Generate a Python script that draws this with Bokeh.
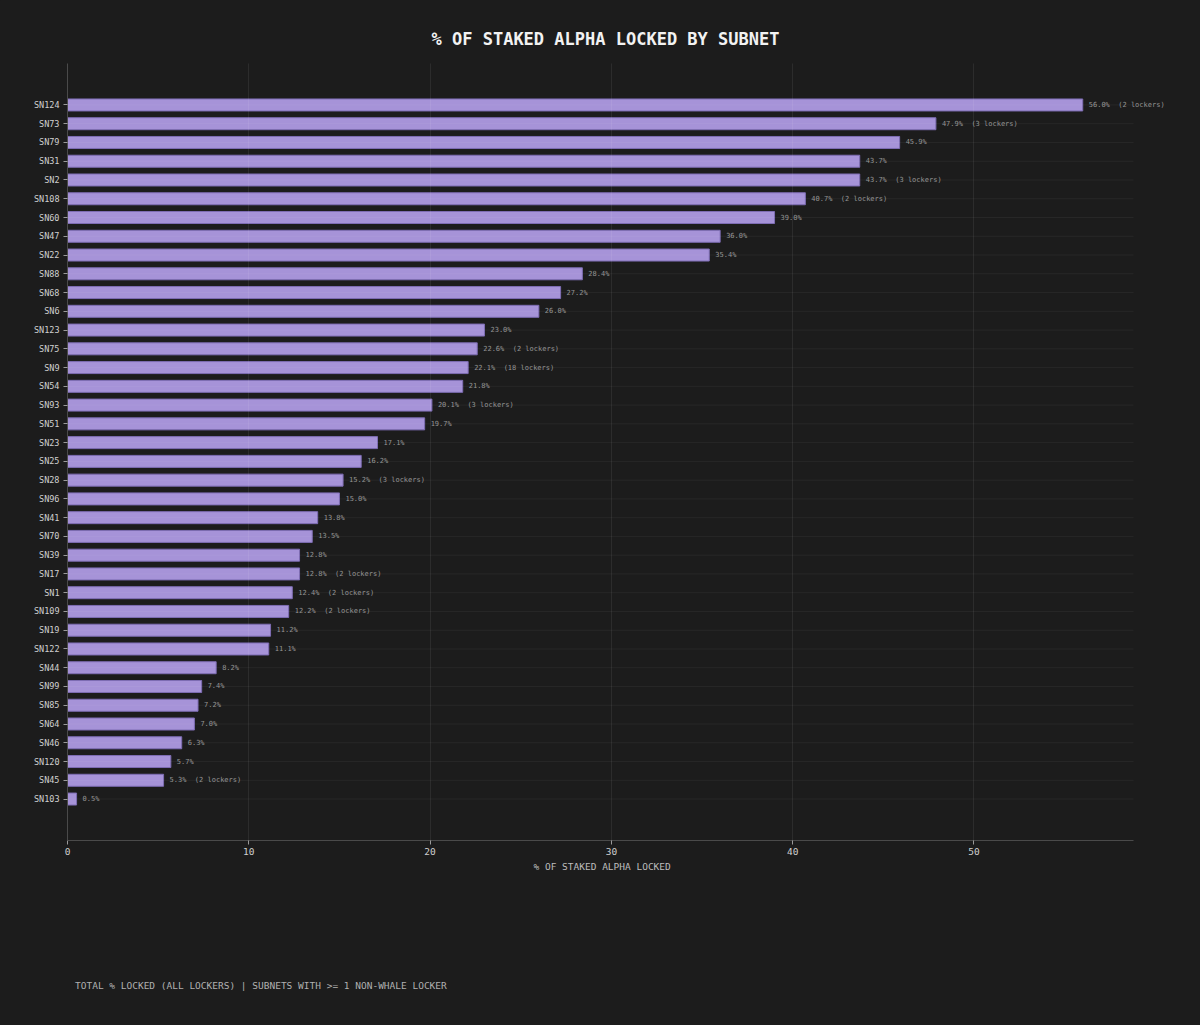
from bokeh.plotting import figure
from bokeh.models import FactorRange, Range1d, FixedTicker, Title, ColumnDataSource, Div
from bokeh.core.properties import value
from bokeh.layouts import column
from bokeh.embed import file_html
from bokeh.resources import INLINE

subnets = ["SN124", "SN73", "SN79", "SN31", "SN2", "SN108", "SN60", "SN47", "SN22", "SN88",
           "SN68", "SN6", "SN123", "SN75", "SN9", "SN54", "SN93", "SN51", "SN23", "SN25",
           "SN28", "SN96", "SN41", "SN70", "SN39", "SN17", "SN1", "SN109", "SN19", "SN122",
           "SN44", "SN99", "SN85", "SN64", "SN46", "SN120", "SN45", "SN103"]
pct_locked = [56.0, 47.9, 45.9, 43.7, 43.7, 40.7, 39.0, 36.0, 35.4, 28.4,
              27.2, 26.0, 23.0, 22.6, 22.1, 21.8, 20.1, 19.7, 17.1, 16.2,
              15.2, 15.0, 13.8, 13.5, 12.8, 12.8, 12.4, 12.2, 11.2, 11.1,
              8.2, 7.4, 7.2, 7.0, 6.3, 5.7, 5.3, 0.5]
lockers = [2, 3, 1, 1, 3, 2, 1, 1, 1, 1,
           1, 1, 1, 2, 18, 1, 3, 1, 1, 1,
           3, 1, 1, 1, 1, 2, 2, 2, 1, 1,
           1, 1, 1, 1, 1, 1, 2, 1]
x_ticks = [0, 10, 20, 30, 40, 50]

BG = "#1c1c1c"
FONT = "DejaVu Sans Mono"

labels = [f"{v:.1f}%" + (f"\u00a0\u00a0({n} lockers)" if n > 1 else "") for v, n in zip(pct_locked, lockers)]
axis_end = max(pct_locked) * 1.05
src = ColumnDataSource(dict(sn=subnets, v=pct_locked, lab=labels,
                            x0=[0] * len(subnets), x1=[axis_end] * len(subnets)))
factors = list(reversed(subnets))

W, H = 1200, 968
LEFT, RIGHT_AXIS, RIGHT_BORDER = 67, 1133, 20
# the frame is a bit wider than the axis so that value labels are not clipped
x_end = axis_end * (W - RIGHT_BORDER - LEFT) / (RIGHT_AXIS - LEFT)

p = figure(width=W, height=H, output_backend="svg", toolbar_location=None,
           y_range=FactorRange(factors=factors, range_padding=0.09,
                               range_padding_units="percent"),
           x_range=Range1d(0, x_end),
           background_fill_color=BG, border_fill_color=BG,
           min_border_left=LEFT, min_border_right=RIGHT_BORDER, min_border_top=63,
           min_border_bottom=128)
p.outline_line_color = None

p.hbar(y="sn", right="v", left=0, height=0.64, source=src,
       fill_color="#a693d8", line_color="#7e6db4", line_width=1)
# horizontal grid lines (limited to the axis extent), drawn above bars
p.segment(x0="x0", x1="x1", y0="sn", y1="sn", source=src,
          line_color="#ffffff", line_alpha=0.05, line_width=1)
p.text(x="v", y="sn", text="lab", source=src, x_offset=6, text_baseline="middle",
       text_align="left", text_font_size="7px", text_color="#959595", text_font=value(FONT))

t = Title(text="% OF STAKED ALPHA LOCKED BY SUBNET", align="left", offset=364, text_font=FONT,
          text_font_size="17px", text_font_style="bold", text_color="#f2f2f2", standoff=30)
p.add_layout(t, "above")

p.ygrid.visible = False
p.xgrid.grid_line_color = "#ffffff"
p.xgrid.level = "overlay"
p.xgrid.grid_line_alpha = 0.07
p.xgrid.ticker = FixedTicker(ticks=x_ticks)

xa = p.xaxis[0]
xa.ticker = FixedTicker(ticks=x_ticks)
xa.bounds = (0, axis_end)
xa.major_label_standoff = 3
ya = p.yaxis[0]
for a in (xa, ya):
    a.axis_line_color = "#4a4a4a"
    a.major_tick_line_color = "#9a9a9a"
    a.major_tick_out = 4
    a.major_tick_in = 0
    a.minor_tick_line_color = None
    a.major_label_text_font = FONT
    a.major_label_text_color = "#d0d0d0"
xa.major_label_text_font_size = "9.5px"
ya.major_label_text_font_size = "8.5px"
ya.major_label_standoff = 4

# x-axis label, centred under the axis extent (not the wider frame)
xlab = Title(text="% OF STAKED ALPHA LOCKED", align="left", offset=466, text_font=FONT,
             text_font_size="9.5px", text_font_style="normal", text_color="#bdbdbd", standoff=2)
p.add_layout(xlab, "below")

note = Div(text="TOTAL % LOCKED (ALL LOCKERS) | SUBNETS WITH &gt;= 1 NON-WHALE LOCKER",
           margin=(11, 0, 0, 75),
           styles={"color": "#b0b0b0", "font-family": FONT, "font-size": "9.5px",
                   "white-space": "nowrap"})

layout = column(p, note, styles={"background-color": BG})
html = file_html(layout, INLINE)
html = html.replace("<head>", "<head><style>html,body{background:#1c1c1c;}</style>", 1)
open("out.html", "w").write(html)
